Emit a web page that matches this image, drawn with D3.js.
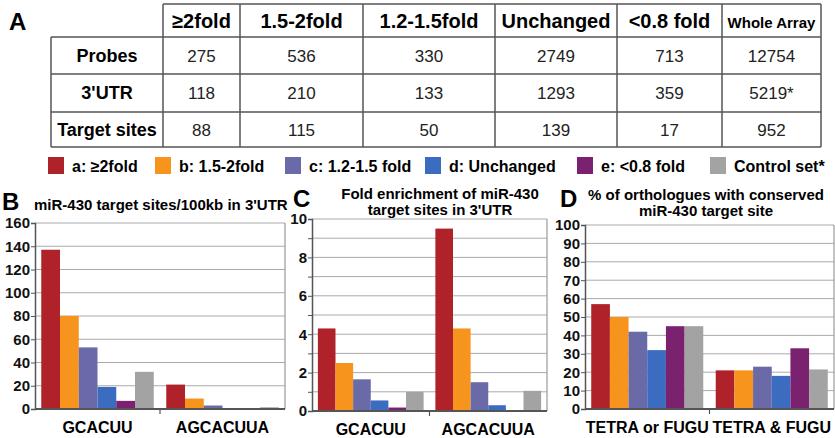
<!DOCTYPE html>
<html>
<head>
<meta charset="utf-8">
<script src="https://cdn.jsdelivr.net/npm/d3@7"></script>
<style>
  body { margin: 0; background: #fff; }
  svg { display: block; font-family: "Liberation Sans", Arial, Helvetica, sans-serif; }
</style>
</head>
<body>
<svg width="835" height="438"></svg>
<script>
// ---- data ----
const tableCols = ["≥2fold", "1.5-2fold", "1.2-1.5fold", "Unchanged", "<0.8 fold", "Whole Array"];
const tableRows = ["Probes", "3'UTR", "Target sites"];
const probes = ["275", "536", "330", "2749", "713", "12754"];
const utr = ["118", "210", "133", "1293", "359", "5219*"];
const targetSites = ["88", "115", "50", "139", "17", "952"];

const seriesNames = ["a: ≥2fold", "b: 1.5-2fold", "c: 1.2-1.5 fold", "d: Unchanged", "e: <0.8 fold", "Control set*"];
const seriesColors = ["#b0222a", "#f7941e", "#6a6aa8", "#3b6cc0", "#7a2270", "#a3a3a3"];

const siteCats = ["GCACUU", "AGCACUUA"];
const densityB = [[137, 80, 53, 19, 7, 32], [21, 9, 3, 0.5, 0.3, 1.5]];
const enrichC = [[4.3, 2.5, 1.65, 0.55, 0.18, 1.0], [9.5, 4.3, 1.5, 0.3, 0.02, 1.05]];
const orthoCats = ["TETRA or FUGU", "TETRA & FUGU"];
const conservedD = [[57, 50, 42, 32, 45, 45], [21, 21, 23, 18, 33, 21.5]];

const svg = d3.select("svg");

// ---- panel A: table ----
svg.append("text").attr("x", 9).attr("y", 30)
    .attr("font-size", 24).attr("font-weight", "bold").text("A");

const colEdges = [51, 163, 240, 363, 495, 617, 722, 821];
const rowEdges = [4, 37, 74, 112, 147];
const tbl = svg.append("g").attr("stroke", "#555").attr("stroke-width", 1.5);

// horizontal lines
tbl.append("line").attr("x1", colEdges[1]).attr("x2", colEdges[7]).attr("y1", rowEdges[0]).attr("y2", rowEdges[0]);
rowEdges.slice(1).forEach(y => {
    tbl.append("line").attr("x1", colEdges[0]).attr("x2", colEdges[7]).attr("y1", y).attr("y2", y);
});
// vertical lines
colEdges.forEach((x, i) => {
    tbl.append("line").attr("x1", x).attr("x2", x)
        .attr("y1", i === 0 ? rowEdges[1] : rowEdges[0]).attr("y2", rowEdges[4]);
});

const colMid = i => (colEdges[i] + colEdges[i + 1]) / 2;
const rowMid = i => (rowEdges[i] + rowEdges[i + 1]) / 2;

tableCols.forEach((c, i) => {
    svg.append("text").attr("x", colMid(i + 1)).attr("y", rowMid(0) + 7)
        .attr("text-anchor", "middle").attr("font-weight", "bold")
        .attr("font-size", i === 5 ? 15 : 20).text(c);
});

[probes, utr, targetSites].forEach((row, r) => {
    svg.append("text").attr("x", colMid(0)).attr("y", rowMid(r + 1) + 6)
        .attr("text-anchor", "middle").attr("font-weight", "bold")
        .attr("font-size", 18).text(tableRows[r]);
    row.forEach((v, i) => {
        svg.append("text").attr("x", colMid(i + 1)).attr("y", rowMid(r + 1) + 6)
            .attr("text-anchor", "middle").attr("font-size", 17).attr("fill", "#222").text(v);
    });
});

// ---- legend ----
const legendX = [48, 155, 285, 425, 577, 710];
seriesNames.forEach((name, i) => {
    svg.append("rect").attr("x", legendX[i]).attr("y", 157)
        .attr("width", 16).attr("height", 17).attr("fill", seriesColors[i]);
    svg.append("text").attr("x", legendX[i] + 24).attr("y", 172)
        .attr("font-size", 16).attr("font-weight", "bold").text(name);
});

// ---- bar panels ----
function drawPanel(cfg) {
    const g = svg.append("g");
    const x = d3.scaleBand().domain(cfg.cats).range([cfg.x0, cfg.x1])
        .paddingInner(0.1).paddingOuter(0.05);
    const xi = d3.scaleBand().domain(d3.range(seriesNames.length)).range([0, x.bandwidth()]);
    const y = d3.scaleLinear().domain([0, cfg.max]).range([cfg.yBot, cfg.yTop]);

    // gridlines
    g.append("g").selectAll("line").data(d3.range(cfg.gridStep, cfg.max + 0.001, cfg.gridStep))
        .join("line")
        .attr("x1", cfg.x0).attr("x2", cfg.x1)
        .attr("y1", d => y(d)).attr("y2", d => y(d))
        .attr("stroke", "#aaa").attr("stroke-width", 1);
    // right border
    g.append("line").attr("x1", cfg.x1).attr("x2", cfg.x1).attr("y1", cfg.yTop).attr("y2", cfg.yBot)
        .attr("stroke", "#999").attr("stroke-width", 1.2);

    // bars
    cfg.values.forEach((vals, c) => {
        g.append("g").selectAll("rect").data(vals).join("rect")
            .attr("x", (d, i) => x(cfg.cats[c]) + xi(i))
            .attr("width", xi.bandwidth())
            .attr("y", d => y(d))
            .attr("height", d => cfg.yBot - y(d))
            .attr("fill", (d, i) => seriesColors[i]);
    });

    // y axis
    const yAxis = d3.axisLeft(y)
        .tickValues(d3.range(0, cfg.max + 0.001, cfg.gridStep))
        .tickSize(4)
        .tickFormat(d => (Math.round(d / cfg.labelStep * 1000) % 1000 === 0 ? d : ""));
    const ya = g.append("g").attr("transform", `translate(${cfg.x0},0)`).call(yAxis);
    ya.select(".domain").attr("stroke", "#555").attr("stroke-width", 1.5);
    ya.selectAll(".tick line").attr("stroke", "#555");
    ya.selectAll(".tick text").attr("font-size", 15).attr("font-weight", "bold")
        .attr("font-family", "inherit").attr("fill", "#111").attr("x", -5);

    // x axis line and middle tick
    g.append("line").attr("x1", cfg.x0).attr("x2", cfg.x1).attr("y1", cfg.yBot).attr("y2", cfg.yBot)
        .attr("stroke", "#555").attr("stroke-width", 1.8);
    const mid = (x(cfg.cats[0]) + x.bandwidth() + x(cfg.cats[1])) / 2;
    g.append("line").attr("x1", mid).attr("x2", mid).attr("y1", cfg.yBot).attr("y2", cfg.yBot + 5)
        .attr("stroke", "#555").attr("stroke-width", 1.2);

    // category labels
    g.selectAll("text.cat").data(cfg.cats).join("text").attr("class", "cat")
        .attr("x", d => x(d) + x.bandwidth() / 2).attr("y", cfg.yBot + 24)
        .attr("text-anchor", "middle").attr("font-size", cfg.catSize)
        .attr("font-weight", "bold").text(d => d);

    // panel letter and title
    svg.append("text").attr("x", cfg.letterX).attr("y", cfg.letterY)
        .attr("font-size", 24).attr("font-weight", "bold").text(cfg.letter);
    cfg.title.forEach((t, i) => {
        svg.append("text").attr("x", cfg.titleX).attr("y", cfg.titleY + i * 16)
            .attr("text-anchor", cfg.titleAnchor).attr("font-size", 15)
            .attr("font-weight", "bold").text(t);
    });
}

drawPanel({
    cats: siteCats, values: densityB, max: 160, gridStep: 20, labelStep: 20,
    x0: 35, x1: 285, yTop: 223, yBot: 409, catSize: 16,
    letter: "B", letterX: 2, letterY: 210,
    title: ["miR-430 target sites/100kb in 3'UTR"], titleX: 34, titleY: 210, titleAnchor: "start"
});

drawPanel({
    cats: siteCats, values: enrichC, max: 10, gridStep: 1, labelStep: 2,
    x0: 312, x1: 547, yTop: 219, yBot: 411, catSize: 16,
    letter: "C", letterX: 293, letterY: 207,
    title: ["Fold enrichment of miR-430", "target sites in 3'UTR"], titleX: 440, titleY: 199, titleAnchor: "middle"
});

drawPanel({
    cats: orthoCats, values: conservedD, max: 100, gridStep: 10, labelStep: 10,
    x0: 585, x1: 834, yTop: 225, yBot: 409, catSize: 16,
    letter: "D", letterX: 560, letterY: 207,
    title: ["% of orthologues with conserved", "miR-430 target site"], titleX: 706, titleY: 200, titleAnchor: "middle"
});
</script>
</body>
</html>
